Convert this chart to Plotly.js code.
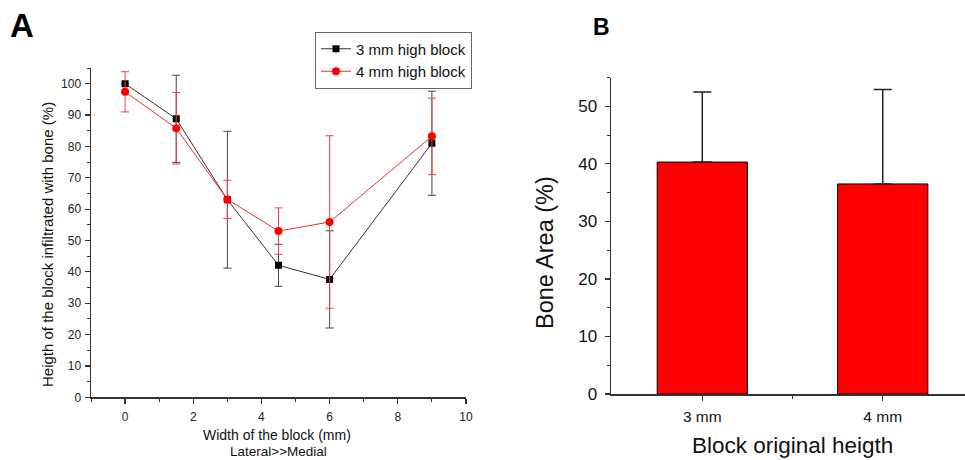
<!DOCTYPE html>
<html>
<head>
<meta charset="utf-8">
<script src="https://cdn.plot.ly/plotly-3.0.1.min.js"></script>
<style>html,body{margin:0;padding:0;background:#fff;}#chart{width:965px;height:460px;}</style>
</head>
<body>
<div id="chart"></div>
<script>
// Panel A data
var widths = [0, 1.5, 3, 4.5, 6, 9];
var high3 = [100, 88.8, 63.0, 42.1, 37.6, 81.0];
var high3Err = [0, 13.9, 21.8, 6.7, 15.5, 16.6];
var high4 = [97.4, 85.8, 63.1, 53.0, 55.9, 83.2];
var high4Err = [6.4, 11.4, 6.1, 7.4, 27.5, 12.2];
var seriesNames = ["3 mm high block", "4 mm high block"];
// Panel B data
var blockCats = ["3 mm", "4 mm"];
var boneArea = [40.3, 36.5];
var boneAreaErr = [12.2, 16.4];

var W = 965, H = 460;
function px(x){return x / W;}
function py(y){return 1 - y / H;}
var F = "Liberation Sans, Arial, sans-serif";
var axCol = "#333";

var traces = [
  {
    x: widths, y: high3, name: seriesNames[0], type: "scatter", mode: "lines+markers",
    xaxis: "x", yaxis: "y",
    line: {color: "#333", width: 1},
    marker: {symbol: "square", size: 7, color: "#000"},
    error_y: {type: "data", array: high3Err, visible: true, color: "#444", thickness: 1, width: 4}
  },
  {
    x: widths, y: high4, name: seriesNames[1], type: "scatter", mode: "lines+markers",
    xaxis: "x", yaxis: "y",
    line: {color: "#f03030", width: 1},
    marker: {symbol: "circle", size: 8, color: "#ff0000"},
    error_y: {type: "data", array: high4Err, visible: true, color: "#f04040", thickness: 1, width: 4}
  },
  {
    x: blockCats.map(function(c, i){return i;}), y: boneArea, type: "bar", showlegend: false,
    xaxis: "x2", yaxis: "y2", width: 0.5,
    marker: {color: "#ff0000", line: {color: "#000", width: 1}},
    error_y: {type: "data", array: boneAreaErr, arrayminus: [0, 0], symmetric: false, visible: true, color: "#222", thickness: 1.5, width: 9}
  }
];

var layout = {
  width: W, height: H,
  margin: {l: 0, r: 0, t: 0, b: 0},
  paper_bgcolor: "#fff", plot_bgcolor: "#fff",
  font: {family: F, color: "#111"},
  showlegend: true,
  legend: {
    x: px(315), y: py(31.5), xanchor: "left", yanchor: "top",
    bordercolor: "#666", borderwidth: 1, bgcolor: "#fff",
    font: {family: F, size: 15, color: "#111"},
    tracegroupgap: 0, itemwidth: 30
  },
  xaxis: {
    domain: [px(91), px(466)], range: [-1, 10], anchor: "y",
    showgrid: false, zeroline: false, showline: true, linecolor: axCol, linewidth: 1.5,
    ticks: "outside", ticklen: 5, tickwidth: 1.2, tickcolor: axCol, dtick: 2, tick0: 0,
    minor: {dtick: 1, ticks: "outside", ticklen: 3, tickwidth: 1, tickcolor: axCol},
    tickfont: {family: F, size: 12, color: "#222"}, ticklabelstandoff: 3
  },
  yaxis: {
    domain: [py(397.3), py(68)], range: [0, 105], anchor: "x",
    showgrid: false, zeroline: false, showline: true, linecolor: axCol, linewidth: 1.5,
    ticks: "outside", ticklen: 5, tickwidth: 1.2, tickcolor: axCol, dtick: 10, tick0: 0,
    minor: {dtick: 5, ticks: "outside", ticklen: 3, tickwidth: 1, tickcolor: axCol},
    tickfont: {family: F, size: 12, color: "#222"}, ticklabelstandoff: 1
  },
  xaxis2: {
    domain: [px(611), 1], range: [-0.506, 1.456], anchor: "y2",
    showgrid: false, zeroline: false, showline: true, linecolor: axCol, linewidth: 1.5,
    tickmode: "array", tickvals: blockCats.map(function(c, i){return i;}), ticktext: blockCats,
    ticks: "outside", ticklen: 5, tickwidth: 1.2, tickcolor: axCol,
    minor: {tickmode: "array", tickvals: [0.5], ticks: "outside", ticklen: 3, tickwidth: 1, tickcolor: axCol},
    tickfont: {family: F, size: 15.5, color: "#111"}, ticklabelstandoff: 3
  },
  yaxis2: {
    domain: [py(394), py(77.5)], range: [0, 55], anchor: "x2",
    showgrid: false, zeroline: false, showline: true, linecolor: axCol, linewidth: 1.5,
    ticks: "outside", ticklen: 5, tickwidth: 1.2, tickcolor: axCol, dtick: 10, tick0: 0,
    minor: {dtick: 5, ticks: "outside", ticklen: 3, tickwidth: 1, tickcolor: axCol},
    tickfont: {family: F, size: 17, color: "#111"}, ticklabelstandoff: 4
  },
  annotations: [
    {text: "<b>A</b>", x: px(22), y: py(25), xref: "paper", yref: "paper", showarrow: false,
     xanchor: "center", yanchor: "middle", font: {family: "Liberation Sans Narrow, Liberation Sans, Arial", size: 33, color: "#000"}},
    {text: "<b>B</b>", x: px(601), y: py(27), xref: "paper", yref: "paper", showarrow: false,
     xanchor: "center", yanchor: "middle", font: {family: "Liberation Sans Narrow, Liberation Sans, Arial", size: 23, color: "#000"}},
    {text: "Heigth of the block infiltrated with bone (%)", x: px(47), y: py(245), xref: "paper", yref: "paper",
     showarrow: false, textangle: -90, xanchor: "center", yanchor: "middle", font: {family: F, size: 15, color: "#111"}},
    {text: "Width of the block (mm)", x: px(277), y: py(434.5), xref: "paper", yref: "paper", borderpad: 0,
     showarrow: false, xanchor: "center", yanchor: "middle", font: {family: F, size: 14, color: "#111"}},
    {text: "Lateral>>Medial", x: px(278), y: py(451.5), xref: "paper", yref: "paper", borderpad: 0,
     showarrow: false, xanchor: "center", yanchor: "middle", font: {family: F, size: 13.5, color: "#111"}},
    {text: "Bone Area (%)", x: px(545), y: py(253), xref: "paper", yref: "paper",
     showarrow: false, textangle: -90, xanchor: "center", yanchor: "middle", font: {family: F, size: 23.5, color: "#111"}},
    {text: "Block original heigth", x: px(792), y: py(445), xref: "paper", yref: "paper",
     showarrow: false, xanchor: "center", yanchor: "middle", font: {family: F, size: 22.5, color: "#111"}}
  ]
};

Plotly.newPlot("chart", traces, layout, {staticPlot: true, displayModeBar: false});
</script>
</body>
</html>
